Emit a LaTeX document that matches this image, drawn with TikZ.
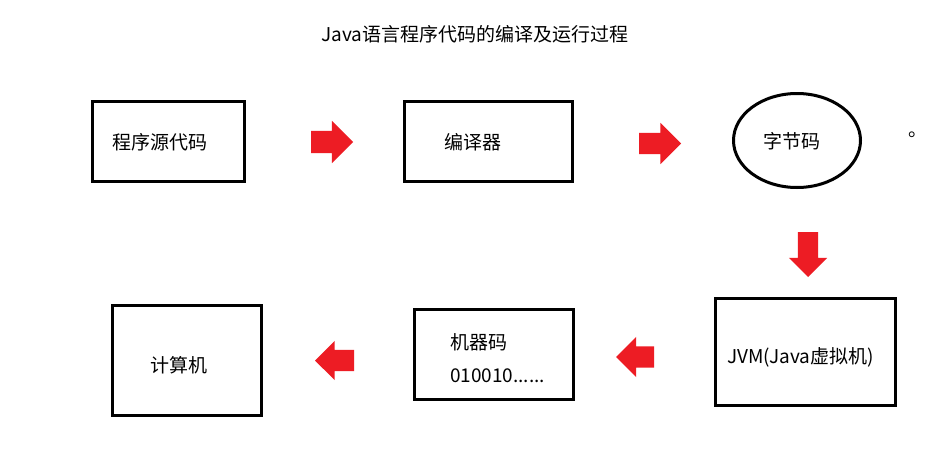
\documentclass[tikz,border=0pt]{standalone}
\usepackage{fontspec}
\setmainfont{Noto Sans CJK SC}
\usetikzlibrary{shapes.geometric,shapes.arrows}

\begin{document}
\begin{tikzpicture}[x=1pt,y=-1pt,line cap=rect,
  box/.style={draw=custcol_0_0_0, line width=3.0pt, inner sep=0, outer sep=0},
  txt/.style={inner sep=0, outer sep=0, custcol_0_0_0, anchor=base west, font=\fontsize{19pt}{19pt}\selectfont},
  redarrow/.style={single arrow, fill=custcol_ed_1c_24, draw=none, inner sep=11, outer sep=0,
    minimum height=42, single arrow head extend=10, anchor=tip}]
\definecolor{custcol_0_0_0}{RGB}{0, 0, 0}
\definecolor{custcol_ed_1c_24}{RGB}{237, 28, 36}
\useasboundingbox[fill=white] (0,0) rectangle (946,471);
% title
\node[inner sep=0, outer sep=0, custcol_0_0_0, anchor=base, font=\fontsize{19pt}{19pt}\selectfont] (title) at (475.0,41.5) {Java语言程序代码的编译及运行过程};
% boxes
\node[box, minimum width=152, minimum height=80] (srcbox) at (168.0,141.5) {};
\node[box, minimum width=167.5, minimum height=79.5] (cmpbox) at (488.25,141.25) {};
\node[box, ellipse, minimum width=127, minimum height=94] (bytebox) at (797.0,140.5) {};
\node[box, minimum width=180, minimum height=107] (jvmbox) at (805.0,351.5) {};
\node[box, minimum width=159.5, minimum height=90.5] (machbox) at (493.75,354.25) {};
\node[box, minimum width=149, minimum height=110] (pcbox) at (186.5,360.0) {};
% texts
\node[txt] (srctext) at (112.0,149.5) {程序源代码};
\node[txt] (cmptext) at (444.0,149.5) {编译器};
\node[txt] (bytetext) at (763.0,148.5) {字节码};
\node[txt] (dottext) at (908.0,136.0) {。};
\node[txt] (jvmtext) at (727.0,363.0) {JVM(Java虚拟机)};
\node[txt] (machtext) at (450.0,349.0) {机器码};
\node[txt] (bintext) at (450.0,382.0) {010010......};
\node[txt] (pctext) at (150.0,372.5) {计算机};
% red arrows
\node[redarrow] (arrA) at (353.0,142.0) {};
\node[redarrow, inner sep=10.5] (arrB) at (681.0,143.5) {};
\node[redarrow, shape border rotate=270, inner sep=10, minimum height=45, single arrow head extend=9] (arrC) at (808.0,277.0) {};
\node[redarrow, shape border rotate=180, inner sep=10.5, minimum height=38, single arrow head extend=9.5] (arrD) at (616.0,357.0) {};
\node[redarrow, shape border rotate=180, inner sep=10.5, minimum height=39, single arrow head extend=9] (arrE) at (315.0,360.5) {};
\end{tikzpicture}
\end{document}
